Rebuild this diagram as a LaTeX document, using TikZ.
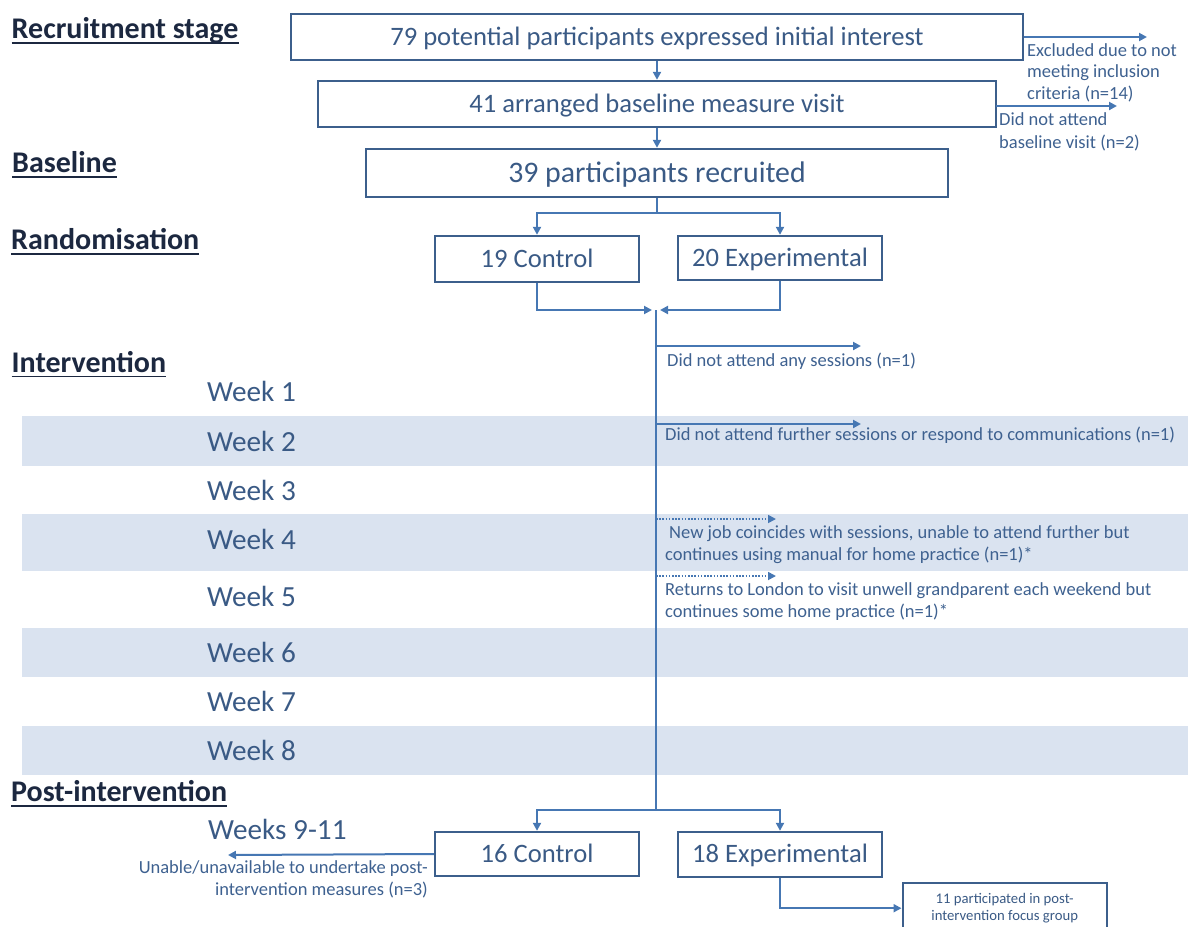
\documentclass[tikz,border=0pt]{standalone}
\usepackage{fontspec}
\setmainfont{Carlito}
\usetikzlibrary{arrows.meta}
\definecolor{headc}{HTML}{1C2840}
\definecolor{boxc}{HTML}{3C5F8C}
\definecolor{boxtxt}{HTML}{3A5A85}
\definecolor{linec}{HTML}{4677B3}
\definecolor{smalltxt}{HTML}{3E6190}
\definecolor{bandc}{HTML}{DAE3F0}
\begin{document}
\begin{tikzpicture}[x=1pt,y=-1pt,
  box/.style={draw=boxc, line width=2.4pt, minimum height=46pt, inner sep=0pt,
    text=boxtxt, font=\fontsize{26.6}{32}\selectfont, text height=16.8pt, text depth=0pt},
  bigbox/.style={font=\fontsize{29.8}{36}\selectfont, text height=18.8pt},
  focusbox/.style={draw=boxc, line width=2.4pt, minimum width=204pt, minimum height=51pt,
    inner sep=0pt, text=boxtxt, align=center, font=\fontsize{14.7}{16.7}\selectfont},
  head/.style={anchor=base west, inner sep=0pt, text=headc, font=\fontsize{30}{34}\selectfont\bfseries},
  week/.style={anchor=base west, inner sep=0pt, text=boxtxt, font=\fontsize{29.2}{34}\selectfont},
  note/.style={anchor=base west, inner sep=0pt, text=smalltxt, font=\fontsize{18.5}{22}\selectfont},
  noteR/.style={note, anchor=base east},
  line/.style={draw=linec, line width=2pt},
  conn/.style={line, -{Triangle[length=8pt,width=8pt]}},
  dotconn/.style={conn, line width=1.7pt, dash pattern=on 1.6pt off 1.6pt},
]
\useasboundingbox (0,0) rectangle (1188,926);
\clip (0,0) rectangle (1188,926);

% shaded week rows
\foreach \a/\b in {416/466, 514/571, 628/677, 726/775}
  \fill[bandc] (22,\a) rectangle (1188,\b);

% stage headings
\node[head] (hrec)  at (11.5,38.3)  {Recruitment stage};
\node[head] (hbase) at (12,172.5)   {Baseline};
\node[head] (hrand) at (11,249.3)   {Randomisation};
\node[head] (hint)  at (11.5,372)   {Intervention};
\node[head] (hpost) at (11,801.7)   {Post-intervention};
\foreach \h in {hrec,hbase,hrand,hint,hpost}
  \draw[headc, line width=1.8pt] ([yshift=-4.5pt]\h.base west) -- ([yshift=-4.5pt]\h.base east);

% week labels
\foreach \n/\y in {1/401.7, 2/451.7, 3/500, 4/549, 5/606, 6/662, 7/711, 8/760}
  \node[week] (w\n) at (207,\y) {Week \n};
\node[week] (w911) at (208,839) {Weeks 9-11};

% flow boxes
\node[box, minimum width=732pt] (b1) at (657,37) {79 potential participants expressed initial interest};
\node[box, minimum width=678pt] (b2) at (657,104) {41 arranged baseline measure visit};
\node[box, bigbox, minimum width=582pt, minimum height=48pt] (b3) at (657,173) {39 participants recruited};
\node[box, minimum width=204pt] (c1) at (537,259) {19 Control};
\node[box, minimum width=204pt, minimum height=44pt] (e1) at (780,258) {20 Experimental};
\node[box, minimum width=204pt, minimum height=44pt] (c2) at (537,854) {16 Control};
\node[box, minimum width=204pt, minimum height=45pt] (e2) at (780,854.5) {18 Experimental};
\node[focusbox] (fg) at (1004.7,908.2) {11 participated in post-\\intervention focus group};

% main flow
\draw[conn] (b1) -- (b2);
\draw[conn] (b2) -- (b3);
\coordinate (s1) at (657,213);
\draw[line] (b3.south) -- (s1);
\draw[conn] (s1) -| (c1.north);
\draw[conn] (s1) -| (e1.north);
\coordinate (m) at (656,310);
\coordinate (mL) at (652,310);
\coordinate (mR) at (660,310);
\draw[conn] (c1.south) |- (mL);
\draw[conn] (e1.south) |- (mR);
\coordinate (s2) at (656,810);
\draw[line] (m) -- (s2);
\draw[conn] (s2) -| (c2.north);
\draw[conn] (s2) -| (e2.north);
\draw[conn] (e2.south) |- (fg.west);

% exclusions during recruitment
\coordinate (x1) at (1147,37);
\draw[conn] (b1.east) -- (x1);
\node[note] (n1a) at (1027,56)   {Excluded due to not};
\node[note] (n1b) at (1027,77.3) {meeting inclusion};
\node[note] (n1c) at (1027,99.3) {criteria (n=14)};
\coordinate (x2s) at (996,106);
\coordinate (x2) at (1117,106);
\draw[conn] (x2s) -- (x2);
\node[note] (n2a) at (999,125.7) {Did not attend};
\node[note] (n2b) at (999,148.3) {baseline visit (n=2)};

% drop-outs during the intervention
\coordinate (t1) at (656,346);  \coordinate (u1) at (861,346);
\coordinate (t2) at (656,424);  \coordinate (u2) at (861,424);
\coordinate (t3) at (656,519);  \coordinate (u3) at (776,519);
\coordinate (t4) at (656,576);  \coordinate (u4) at (776,576);
\draw[conn] (t1) -- (u1);
\draw[conn] (t2) -- (u2);
\draw[dotconn] (t3) -- (u3);
\draw[dotconn] (t4) -- (u4);
\node[note] (i1)  at (667,366)   {Did not attend any sessions (n=1)};
\node[note] (i2)  at (665,440.7) {Did not attend further sessions or respond to communications (n=1)};
\node[note] (i3a) at (669,538.3) {New job coincides with sessions, unable to attend further but};
\node[note] (i3b) at (665,560)   {continues using manual for home practice (n=1)*};
\node[note] (i4a) at (665,595.7) {Returns to London to visit unwell grandparent each weekend but};
\node[note] (i4b) at (665,617.3) {continues some home practice (n=1)*};

% post-intervention loss
\coordinate (x3) at (228,855);
\draw[conn] (c2.west) -- (x3);
\node[noteR] (p1a) at (428,873.3) {Unable/unavailable to undertake post-};
\node[noteR] (p1b) at (428,895)   {intervention measures (n=3)};
\end{tikzpicture}
\end{document}
